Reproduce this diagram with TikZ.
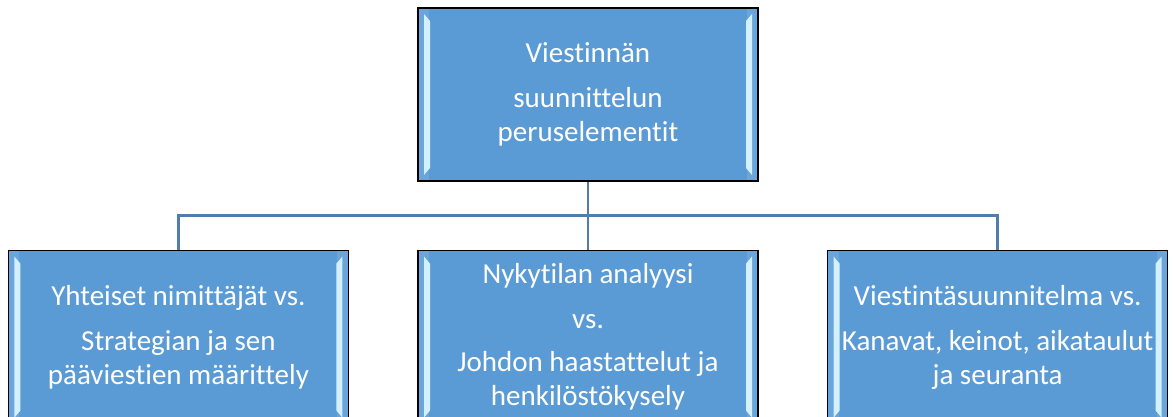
\documentclass[tikz,border=0pt]{standalone}
\usepackage{fontspec}
\setmainfont{Carlito}[Ligatures=NoCommon]
\usetikzlibrary{positioning,calc}

\definecolor{boxblue}{HTML}{5B9BD5}
\definecolor{edgeblue}{HTML}{6AA6DC}
\definecolor{stripblue}{HTML}{D2F1FC}
\definecolor{linkblue}{HTML}{4F7EAB}

\tikzset{
  elembox/.style={rectangle, draw=black, line width=1.6pt, fill=boxblue,
    minimum width=340pt, minimum height=173pt, text=white, align=center,
    inner sep=0pt, font=\fontsize{29}{34}\selectfont,
    path picture={
      % bevel strips left and right
      \fill[edgeblue] (path picture bounding box.north west) rectangle ($(path picture bounding box.south west)+(11pt,0pt)$);
      \fill[edgeblue] (path picture bounding box.north east) rectangle ($(path picture bounding box.south east)+(-11pt,0pt)$);
      \fill[stripblue] ($(path picture bounding box.north west)+(6pt,-6pt)$) -- ++(6pt,-7pt)
        -- ($(path picture bounding box.south west)+(12pt,13pt)$) -- ++(-6pt,-7pt) -- cycle;
      \fill[stripblue] ($(path picture bounding box.north east)+(-6pt,-6pt)$) -- ++(-6pt,-7pt)
        -- ($(path picture bounding box.south east)+(-12pt,13pt)$) -- ++(6pt,-7pt) -- cycle;
    }},
  link/.style={draw=linkblue, line width=2.6pt}
}

\begin{document}
\begin{tikzpicture}[x=1pt, y=1pt, node distance=68pt]
\path[use as bounding box, clip] (0,0) rectangle (1173,417);
\fill[white] (0,0) rectangle (1173,417);

\node[elembox] (top) at (588,322.5) {Viestinnän\\[11pt] suunnittelun\\ peruselementit};
\node[elembox, below=of top] (mid) {Nykytilan analyysi\\[11pt] vs.\\[9pt] Johdon haastattelut ja\\ henkilöstökysely};
\node[elembox, left=of mid] (left) {Yhteiset nimittäjät vs.\\[11pt] Strategian ja sen\\ pääviestien määrittely};
\node[elembox, right=of mid] (right) {Viestintäsuunnitelma vs.\\[11pt] Kanavat, keinot, aikataulut\\ ja seuranta};

\coordinate (bus) at ($(top.south)+(0,-34)$);
\draw[link] (top.south) -- (bus) -- (mid.north);
\draw[link] (left.north) |- (bus) -| (right.north);
\end{tikzpicture}
\end{document}
